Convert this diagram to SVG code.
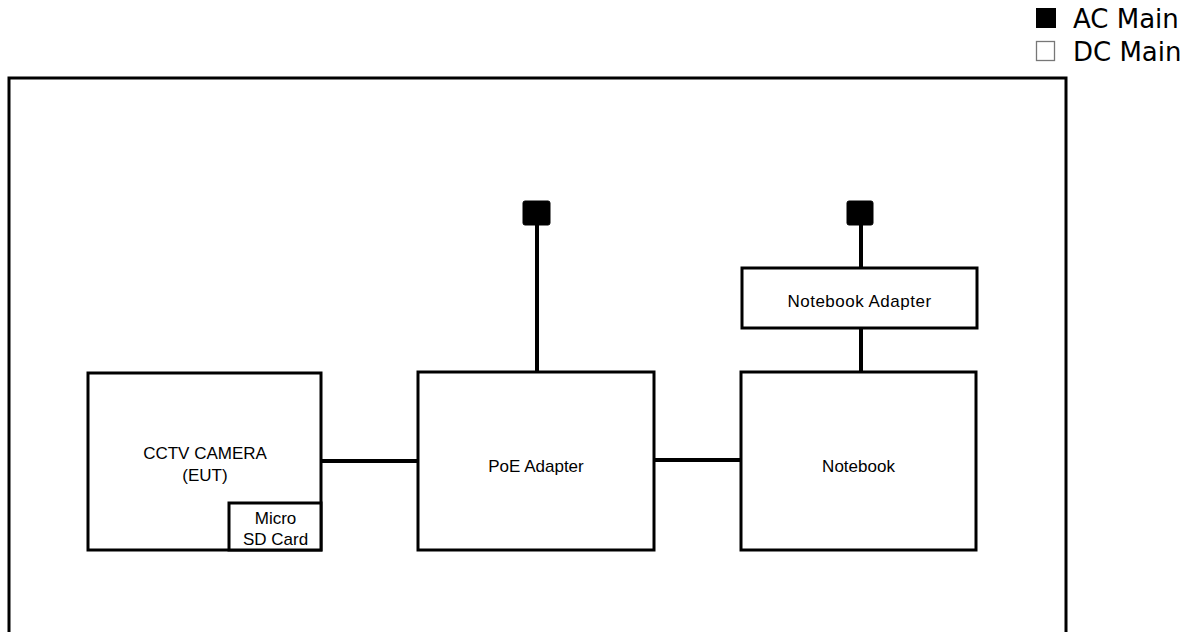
<svg xmlns="http://www.w3.org/2000/svg" width="1195" height="632" viewBox="0 0 1195 632">
<style>
.box{fill:#fff;stroke:#000;stroke-width:3}
.lbl{font-family:"Liberation Sans",Arial,sans-serif;font-size:17px;fill:#000;text-anchor:middle}
.leg{font-family:"DejaVu Sans",Verdana,sans-serif;font-size:26px;fill:#000}
.wire{stroke:#000;stroke-width:4;fill:none}
.plug{fill:#000;stroke:#000;stroke-width:1}
</style>
<rect width="1195" height="632" fill="#fff"/>
<g id="legend">
<rect x="1036" y="8" width="20" height="20" fill="#000"/>
<text class="leg" x="1073" y="28">AC Main</text>
<rect x="1036.5" y="41.5" width="18" height="19" fill="none" stroke="#777" stroke-width="1.3"/>
<text class="leg" x="1073" y="61">DC Main</text>
</g>
<g id="frame">
<path d="M9,640 V78 H1066 V640" fill="none" stroke="#000" stroke-width="3"/>
</g>
<g id="connectors">
<line class="wire" x1="322" y1="461" x2="418" y2="461"/>
<line class="wire" x1="654" y1="460" x2="741" y2="460"/>
<line class="wire" x1="537" y1="224" x2="537" y2="372"/>
<line class="wire" x1="861" y1="224" x2="861" y2="268"/>
<line class="wire" x1="861" y1="328" x2="861" y2="372"/>
</g>
<g id="plug1"><rect class="plug" x="523" y="201" width="27" height="24" rx="2"/></g>
<g id="plug2"><rect class="plug" x="847" y="201" width="26" height="24" rx="2"/></g>
<g id="cctv">
<rect class="box" x="88" y="373" width="233" height="177"/>
<text class="lbl" x="205" y="459">CCTV CAMERA</text>
<text class="lbl" x="205" y="481">(EUT)</text>
</g>
<g id="sdcard">
<rect class="box" x="229" y="503" width="92" height="47"/>
<text class="lbl" x="275.5" y="524">Micro</text>
<text class="lbl" x="275.5" y="545">SD Card</text>
</g>
<g id="poe">
<rect class="box" x="418" y="372" width="236" height="178"/>
<text class="lbl" x="536" y="472">PoE Adapter</text>
</g>
<g id="notebook">
<rect class="box" x="741" y="372" width="235" height="178"/>
<text class="lbl" x="858.5" y="472">Notebook</text>
</g>
<g id="nbadapter">
<rect class="box" x="742" y="268" width="235" height="60"/>
<text class="lbl" x="859.5" y="307" style="letter-spacing:0.5px">Notebook Adapter</text>
</g>
</svg>
